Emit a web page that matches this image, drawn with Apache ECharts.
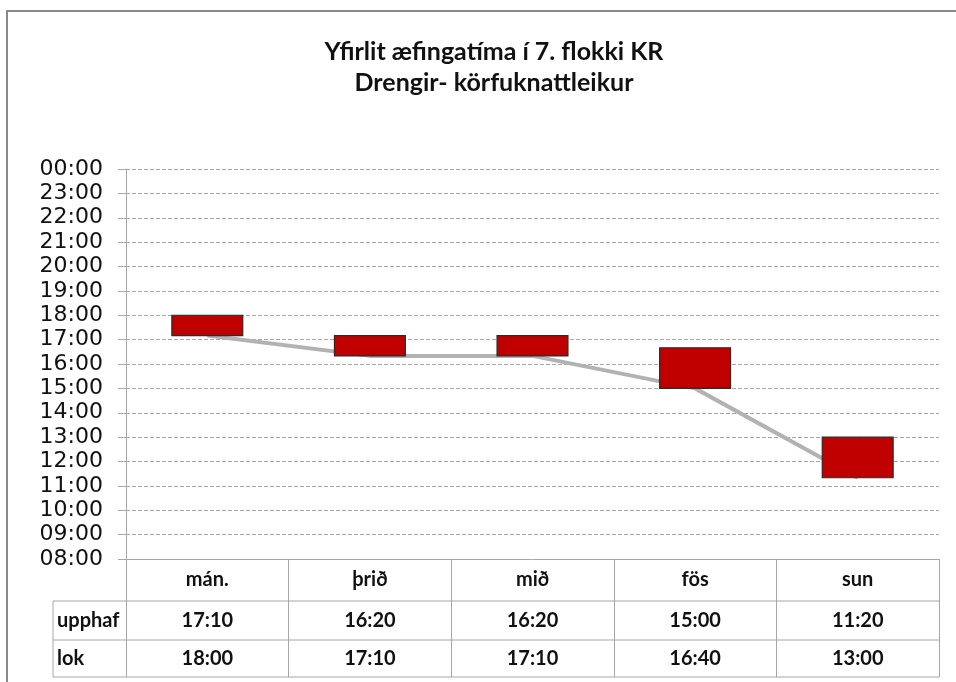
<!DOCTYPE html>
<html>
<head>
<meta charset="utf-8">
<title>Yfirlit æfingatíma í 7. flokki KR</title>
<script src="https://cdn.jsdelivr.net/npm/echarts@6/dist/echarts.min.js"></script>
<style>
  html, body { margin: 0; padding: 0; background: #fff; }
  #chart { width: 956px; height: 682px; }
</style>
</head>
<body>
<div id="chart"></div>
<script>
// Æfingadagar og tímar (upphaf / lok)
const days = ['mán.', 'þrið', 'mið', 'fös', 'sun'];
const upphaf = ['17:10', '16:20', '16:20', '15:00', '11:20'];
const lok = ['18:00', '17:10', '17:10', '16:40', '13:00'];
const hourLabels = ['08:00', '09:00', '10:00', '11:00', '12:00', '13:00', '14:00', '15:00',
  '16:00', '17:00', '18:00', '19:00', '20:00', '21:00', '22:00', '23:00', '00:00'];
const rowNames = ['upphaf', 'lok'];

// "hh:mm" -> klukkustundir sem tugabrot
function toHours(s) {
  const p = s.split(':');
  return Number(p[0]) + Number(p[1]) / 60;
}

const startHours = upphaf.map(toHours);
const endHours = lok.map(toHours);
const blocks = days.map((d, i) => [i, startHours[i], endHours[i]]);

const AXIS_GRAY = '#a6a6a6';
const GRID = { left: 126, right: 17, top: 169, bottom: 123 };
const tableLeft = 53, tableRight = 956 - GRID.right;
const rowLines = [601, 640, 677];
const tableFont = 'Lato, "Open Sans", sans-serif';
const TEXT = '#111111';

const chart = echarts.init(document.getElementById('chart'), null, { renderer: 'canvas' });

function rowAxis(values, offset) {
  return {
    type: 'category',
    data: values,
    position: 'bottom',
    offset: offset,
    gridIndex: 0,
    boundaryGap: true,
    axisLine: { show: false },
    axisTick: { show: false },
    splitLine: { show: false },
    axisLabel: {
      interval: 0, margin: 11,
      fontFamily: tableFont, fontSize: 20, fontWeight: 'bold', color: TEXT
    }
  };
}

const graphics = [
  // ytri rammi
  { type: 'rect', shape: { x: 7, y: 11, width: 1000, height: 1000 },
    style: { fill: null, stroke: '#8a8a8a', lineWidth: 2 }, silent: true },
  // vinstri brún dálks með línuheitum
  { type: 'line', shape: { x1: tableLeft, y1: rowLines[0], x2: tableLeft, y2: rowLines[2] },
    style: { stroke: AXIS_GRAY, lineWidth: 1 }, silent: true }
];
rowLines.forEach(y => {
  graphics.push({ type: 'line', shape: { x1: tableLeft, y1: y, x2: tableRight, y2: y },
    style: { stroke: AXIS_GRAY, lineWidth: 1 }, silent: true });
});
rowNames.forEach((name, r) => {
  graphics.push({ type: 'text', x: 57, y: (rowLines[r] + rowLines[r + 1]) / 2,
    style: { text: name, fontFamily: tableFont, fontSize: 20, fontWeight: 'bold',
      fill: TEXT, textAlign: 'left', textVerticalAlign: 'middle' }, silent: true });
});

const option = {
  animation: false,
  backgroundColor: '#ffffff',
  title: {
    text: 'Yfirlit æfingatíma í 7. flokki KR\nDrengir- körfuknattleikur',
    left: 489, top: 31, textAlign: 'center',
    textStyle: { fontFamily: 'Lato, "Open Sans", sans-serif', fontSize: 25, fontWeight: 'bold',
      color: TEXT, lineHeight: 31 }
  },
  grid: Object.assign({ containLabel: false }, GRID),
  xAxis: [
    {
      type: 'category',
      data: days,
      position: 'bottom',
      boundaryGap: true,
      axisLine: { show: true, lineStyle: { color: AXIS_GRAY, width: 1 } },
      axisTick: { show: true, length: 118, lineStyle: { color: AXIS_GRAY, width: 1 } },
      splitLine: { show: false },
      axisLabel: {
        interval: 0, margin: 11,
        fontFamily: tableFont, fontSize: 20, fontWeight: 'bold', color: TEXT
      }
    },
    rowAxis(upphaf, 41),
    rowAxis(lok, 79)
  ],
  yAxis: {
    type: 'value',
    min: 8, max: 24, interval: 1,
    axisLine: { show: true, lineStyle: { color: AXIS_GRAY, width: 1 } },
    axisTick: { show: true, length: 8, lineStyle: { color: AXIS_GRAY, width: 1 } },
    splitLine: { show: true, lineStyle: { color: '#a6a6a6', width: 1, type: [4, 2] } },
    axisLabel: {
      margin: 23,
      fontFamily: '"DejaVu Sans", Verdana, sans-serif', fontSize: 22, color: TEXT,
      formatter: v => hourLabels[Math.round(v) - 8]
    }
  },
  series: [
    {
      name: 'upphaf',
      type: 'line',
      xAxisIndex: 0,
      data: startHours,
      symbol: 'none',
      z: 2,
      lineStyle: { color: '#b2b2b2', width: 4 },
      itemStyle: { color: '#b2b2b2' }
    },
    {
      name: 'æfing',
      type: 'custom',
      xAxisIndex: 0,
      z: 5,
      data: blocks,
      encode: { x: 0, y: [1, 2] },
      renderItem: function (params, api) {
        const i = api.value(0);
        const top = api.coord([i, api.value(2)]);
        const bottom = api.coord([i, api.value(1)]);
        const w = api.size([1, 0])[0] * 0.436;
        return {
          type: 'rect',
          shape: { x: top[0] - w / 2, y: top[1], width: w, height: bottom[1] - top[1] },
          style: { fill: '#c00000', stroke: '#2b2b2b', lineWidth: 1.2 }
        };
      }
    }
  ],
  graphic: graphics
};

chart.setOption(option);
</script>
</body>
</html>
